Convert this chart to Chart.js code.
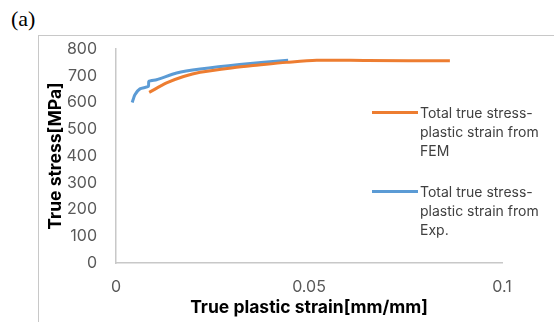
<!DOCTYPE html>
<html>
<head>
<meta charset="utf-8">
<script src="https://cdnjs.cloudflare.com/ajax/libs/Chart.js/4.4.1/chart.umd.min.js"></script>
<style>
  html,body{margin:0;padding:0;background:#fff;}
  #wrap{position:relative;width:554px;height:322px;overflow:hidden;font-family:Inter,"Open Sans",sans-serif;}
  #frame{position:absolute;left:38px;top:35px;width:600px;height:400px;border-top:1.5px solid #c8c8c8;border-left:1.5px solid #c8c8c8;}
  #tag{position:absolute;left:11px;top:6px;font:22px "Liberation Serif","DejaVu Serif",serif;color:#000;}
  canvas{position:absolute;left:0;top:0;}
  .lg{position:absolute;left:372px;width:180px;font-size:14px;line-height:19px;color:#404040;}
  .lg i{position:absolute;left:0;top:8px;width:46px;height:3px;}
  .lg span{display:block;margin-left:48px;}
</style>
</head>
<body>
<div id="wrap">
  <div id="frame"></div>
  <div id="tag">(a)</div>
  <canvas id="c" width="554" height="322"></canvas>
  <div class="lg" id="lgFem" style="top:103px"></div>
  <div class="lg" id="lgExp" style="top:182px"></div>
</div>
<script>
// True plastic strain (mm/mm) vs true stress (MPa)
const FEM_STRAIN = [0.0086, 0.0131, 0.0175, 0.0218, 0.0303, 0.0370, 0.0442, 0.0520, 0.0650, 0.0865];
const FEM_STRESS = [638, 673, 697, 713, 730, 740, 750, 758, 757, 756];
const EXP_STRAIN = [0.0042, 0.0049, 0.0062, 0.0084, 0.0085, 0.0105, 0.0157, 0.0218, 0.0320, 0.0446];
const EXP_STRESS = [600, 629, 651, 660, 679, 685, 710, 725, 742, 758];
const Y_TICKS = [0, 100, 200, 300, 400, 500, 600, 700, 800];
const X_TICKS = [0, 0.05, 0.1];

const FEM_LABEL = ['Total true stress-', 'plastic strain from', 'FEM'];
const EXP_LABEL = ['Total true stress-', 'plastic strain from', 'Exp.'];
const ORANGE = '#ed7d31', BLUE = '#5b9bd5';

const pts = (xs, ys) => xs.map((x, i) => ({x, y: ys[i]}));
const tickFont = {family: 'Inter, "Open Sans", sans-serif', size: 16};
const titleFont = {family: 'Inter, "Open Sans", sans-serif', size: 17.5, weight: 'bold'};

function legend(id, color, lines){
  document.getElementById(id).innerHTML =
    `<i style="background:${color}"></i>` + lines.map(l => `<span>${l}</span>`).join('');
}
legend('lgFem', ORANGE, FEM_LABEL);
legend('lgExp', BLUE, EXP_LABEL);

new Chart(document.getElementById('c'), {
  type: 'scatter',
  data: {datasets: [
    {label: FEM_LABEL.join(' '), data: pts(FEM_STRAIN, FEM_STRESS), showLine: true,
     borderColor: ORANGE, borderWidth: 3, pointRadius: 0, tension: 0.3},
    {label: EXP_LABEL.join(' '), data: pts(EXP_STRAIN, EXP_STRESS), showLine: true,
     borderColor: BLUE, borderWidth: 3, pointRadius: 0, tension: 0.2},
  ]},
  options: {
    responsive: false, animation: false,
    layout: {padding: {left: 45, top: 49, right: 52, bottom: 4}},
    plugins: {legend: {display: false}, tooltip: {enabled: false}},
    scales: {
      x: {type: 'linear', min: 0, max: 0.1,
          afterBuildTicks: s => { s.ticks = X_TICKS.map(v => ({value: v})); },
          afterFit: s => { s.height = 55; },
          grid: {display: false, drawTicks: false},
          border: {display: true, color: '#c8c8c8', width: 1.5},
          ticks: {color: '#595959', font: tickFont, padding: 15, callback: v => String(+v.toFixed(2))},
          title: {display: true, text: 'True plastic strain[mm/mm]', color: '#000', font: titleFont, padding: 0}},
      y: {min: 0, max: 800,
          afterBuildTicks: s => { s.ticks = Y_TICKS.map(v => ({value: v})); },
          afterFit: s => { s.width = 116 - 45; },
          grid: {display: false, drawTicks: false},
          border: {display: true, color: '#c8c8c8', width: 1.5},
          ticks: {color: '#595959', font: tickFont, padding: 19},
          title: {display: true, text: 'True stress[MPa]', color: '#000', font: titleFont, padding: 0}},
    },
  },
});
</script>
</body>
</html>
